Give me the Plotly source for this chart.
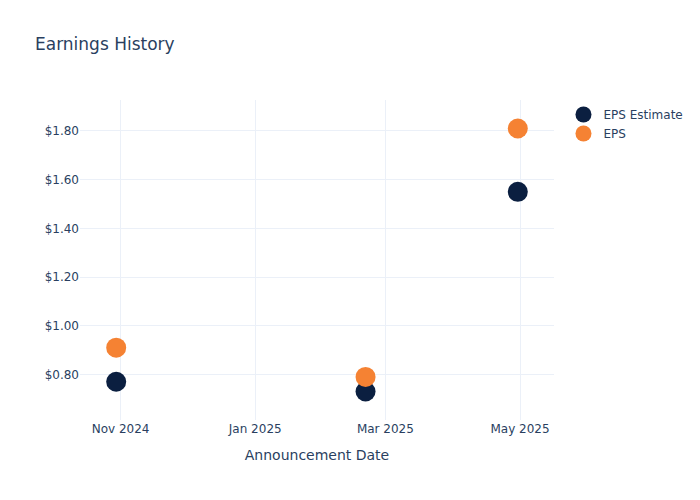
import plotly.graph_objects as go

dates = ["2024-10-30", "2025-02-20", "2025-04-30"]
eps_estimate = [0.77, 0.73, 1.55]
eps_actual = [0.91, 0.79, 1.81]

fig = go.Figure()
fig.add_trace(go.Scatter(x=dates, y=eps_estimate, mode="markers", name="EPS Estimate",
                         marker=dict(color="#0b1f40", size=20)))
fig.add_trace(go.Scatter(x=dates, y=eps_actual, mode="markers", name="EPS",
                         marker=dict(color="#f58233", size=20)))
fig.update_layout(
    template="plotly_white",
    width=700, height=500,
    font=dict(family="DejaVu Sans"),
    title=dict(text="Earnings History"),
    xaxis=dict(title=dict(text="Announcement Date"), tickformat="%b %Y", dtick="M2"),
    yaxis=dict(tickprefix="$", tickformat=".2f"),
)
fig.write_html("out.html", config={"displayModeBar": False},
               post_script="document.body.style.margin='0';")
